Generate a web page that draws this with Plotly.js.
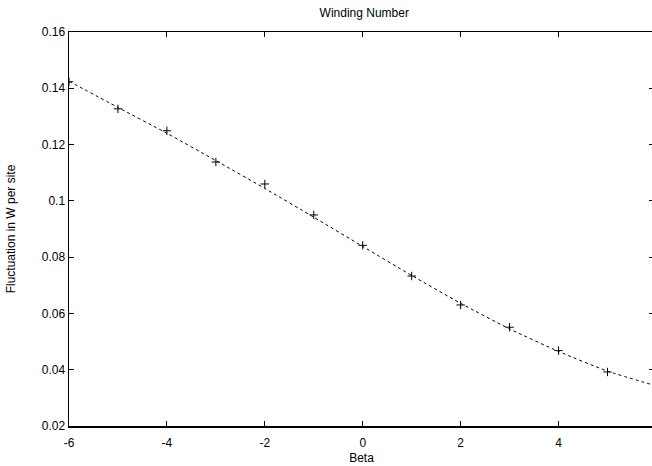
<!DOCTYPE html>
<html>
<head>
<meta charset="utf-8">
<script src="https://cdn.plot.ly/plotly-3.0.1.min.js"></script>
<style>
html,body{margin:0;padding:0;overflow:hidden;background:#fff;}
#chart{width:654px;height:466px;}
</style>
</head>
<body>
<div id="chart"></div>
<script>
// Measured data points
const betaPoints = [-6, -5, -4, -3, -2, -1, 0, 1, 2, 3, 4, 5];
const fluctPoints = [0.1423, 0.1327, 0.1249, 0.1138, 0.1060, 0.0950, 0.0842, 0.0733, 0.0630, 0.0551, 0.0468, 0.0392];
// Fitted dashed curve
const betaFit = [-6, -5, -4, -3, -2, -1, 0, 1, 2, 3, 4, 5, 5.95];
const fluctFit = [0.1425, 0.1332, 0.1240, 0.1143, 0.1044, 0.0942, 0.0838, 0.0735, 0.0636, 0.0545, 0.0465, 0.0395, 0.0345];
// Axis ticks
const xTicks = [-6, -4, -2, 0, 2, 4];
const xTickLabels = ['-6', '-4', '-2', '0', '2', '4'];
const yTicks = [0.02, 0.04, 0.06, 0.08, 0.1, 0.12, 0.14, 0.16];
const yTickLabels = ['0.02', '0.04', '0.06', '0.08', '0.1', '0.12', '0.14', '0.16'];

const font = {family: 'Liberation Sans, Arial, Helvetica, sans-serif', size: 12, color: '#000'};

const traces = [
  {
    x: betaFit, y: fluctFit, mode: 'lines', type: 'scatter',
    line: {color: '#000', width: 1, dash: '3px,3px', shape: 'spline', smoothing: 0.6},
    hoverinfo: 'skip', showlegend: false
  },
  {
    x: betaPoints, y: fluctPoints, mode: 'markers', type: 'scatter',
    marker: {symbol: 'cross-thin', size: 6, color: '#000', line: {color: '#000', width: 1}},
    showlegend: false
  }
];

const layout = {
  width: 654, height: 466,
  margin: {l: 69, r: 0, t: 31.5, b: 39.5, pad: 0},
  paper_bgcolor: '#fff', plot_bgcolor: '#fff',
  font: font,
  title: {text: 'Winding Number', font: font, x: 0.557, xanchor: 'center', y: 0.972, yanchor: 'middle'},
  xaxis: {
    range: [-6, 5.95], tickvals: xTicks, ticktext: xTickLabels,
    ticks: 'inside', ticklen: 5, tickwidth: 1, tickcolor: '#000',
    showline: true, linecolor: '#000', linewidth: 1.5, mirror: 'ticks',
    showgrid: false, zeroline: false,
    tickfont: font, ticklabelstandoff: 5,
    title: {text: 'Beta', font: font, standoff: 4}
  },
  yaxis: {
    range: [0.02, 0.16], tickvals: yTicks, ticktext: yTickLabels,
    ticks: 'inside', ticklen: 5, tickwidth: 1, tickcolor: '#000',
    showline: true, linecolor: '#000', linewidth: 1.5, mirror: 'ticks',
    showgrid: false, zeroline: false,
    tickfont: font,
    title: {text: 'Fluctuation in W per site', font: font, standoff: 23}
  }
};

Plotly.newPlot('chart', traces, layout, {displayModeBar: false, staticPlot: true});
</script>
</body>
</html>
